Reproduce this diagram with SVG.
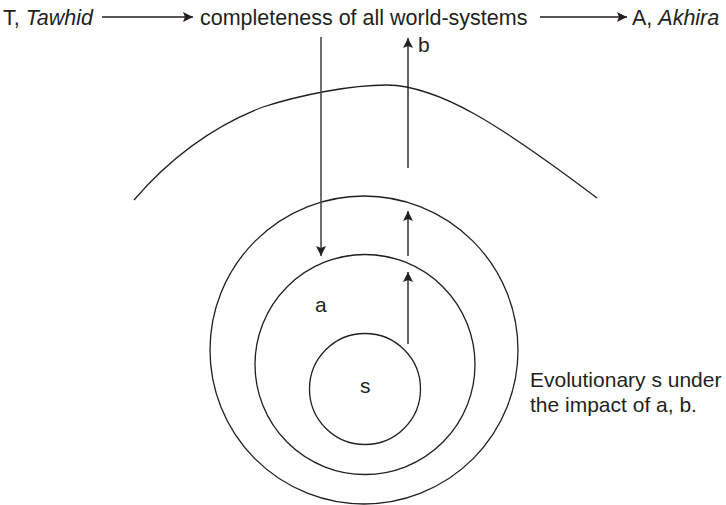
<svg xmlns="http://www.w3.org/2000/svg" width="726" height="505" viewBox="0 0 726 505">
<style>
text{font-family:"Liberation Sans",Arial,sans-serif;fill:#231f20}
.t{font-size:21.5px}
.l{font-size:21px}
.i{font-style:italic}
.c{fill:none;stroke:#231f20;stroke-width:1.3}
.a{fill:none;stroke:#231f20;stroke-width:1.4;marker-end:url(#ah)}
</style>
<defs>
<marker id="ah" viewBox="0 0 10 10" refX="10" refY="5" markerWidth="11" markerHeight="10" markerUnits="userSpaceOnUse" orient="auto">
<path d="M0,0 L10,5 L0,10 L2,5 z" fill="#231f20"/>
</marker>
</defs>
<rect width="726" height="505" fill="#fff"/>
<g id="node-tawhid"><text class="t" x="3" y="25">T, <tspan class="i">Tawhid</tspan></text></g>
<g id="node-completeness"><text class="t" x="200" y="25">completeness of all world-systems</text></g>
<g id="node-akhira"><text class="t" x="632" y="25">A, <tspan class="i">Akhira</tspan></text></g>
<g id="node-boundary"><path class="c" d="M134,200 Q190,135 263,107 C300,95 350,85 387,85 C440,86 500,125 597,198"/></g>
<g id="node-outer"><circle class="c" cx="364" cy="350" r="154"/></g>
<g id="node-middle"><circle class="c" cx="365" cy="364.5" r="110"/><text class="l" x="315" y="312">a</text></g>
<g id="node-inner"><circle class="c" cx="365" cy="389" r="55.5"/><text class="l" x="360" y="393">s</text></g>
<g id="node-caption"><text class="l" x="530" y="387">Evolutionary s under</text><text class="l" x="530" y="412">the impact of a, b.</text></g>
<g id="connectors">
<line class="a" x1="102" y1="17" x2="193" y2="17"/>
<line class="a" x1="540" y1="17" x2="627" y2="17"/>
<line class="a" x1="321" y1="37" x2="321" y2="256" style="stroke:#4a4a4a;stroke-width:1.6"/>
<line class="a" x1="408" y1="344" x2="408" y2="272"/>
<line class="a" x1="408" y1="256" x2="408" y2="211"/>
<line class="a" x1="408" y1="168" x2="408" y2="38"/>
<text class="l" x="418" y="52">b</text>
</g>
</svg>
